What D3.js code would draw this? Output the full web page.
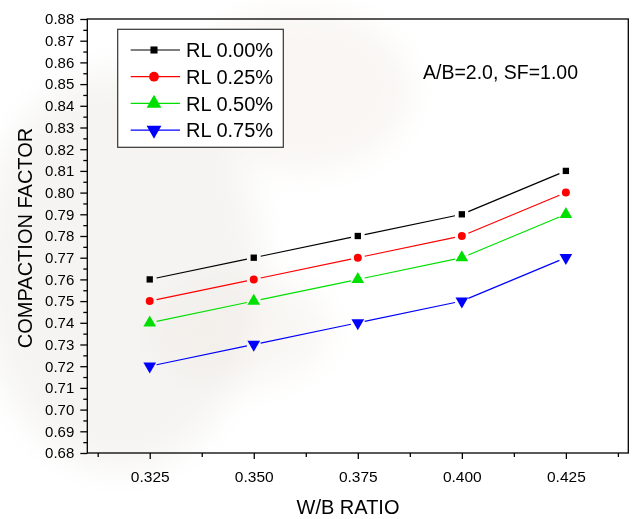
<!DOCTYPE html>
<html>
<head>
<meta charset="utf-8">
<script src="https://cdn.jsdelivr.net/npm/d3@7"></script>
<style>
	body { margin: 0; background: #fff; }
	svg { display: block; font-family: "Liberation Sans", Arial, sans-serif; }
</style>
</head>
<body>
<svg id="chart"></svg>
<script>
// ========== DATA ==========
var wbRatio = [0.325, 0.350, 0.375, 0.400, 0.425];
var seriesNames = ['RL 0.00%', 'RL 0.25%', 'RL 0.50%', 'RL 0.75%'];
var rl000 = [0.76, 0.77, 0.78, 0.79, 0.81];
var rl025 = [0.75, 0.76, 0.77, 0.78, 0.80];
var rl050 = [0.74, 0.75, 0.76, 0.77, 0.79];
var rl075 = [0.72, 0.73, 0.74, 0.75, 0.77];
var xTicks = [0.325, 0.350, 0.375, 0.400, 0.425];
var xMinorTicks = [0.3125, 0.3375, 0.3625, 0.3875, 0.4125, 0.4375];
var yTicks = d3.range(0, 21).map(function(i) { return +(0.68 + i * 0.01).toFixed(2); });
var yMinorTicks = d3.range(0, 20).map(function(i) { return +(0.685 + i * 0.01).toFixed(3); });

makeChart();

function makeChart() {
	var width = 632;
	var height = 519;
	var left = 87.3, right = 628.3, top = 19, bottom = 453;

	var colors = ['#000000', '#ff0000', '#00e000', '#0000ff'];
	var symbols = [d3.symbolSquare, d3.symbolCircle, d3.symbolTriangle, d3.symbolTriangle];
	var allSeries = [rl000, rl025, rl050, rl075];

	var svg = d3.select('#chart')
		.attr('width', width)
		.attr('height', height);

	var x = d3.scaleLinear().domain([0.31, 0.44]).range([left, right]);
	var y = d3.scaleLinear().domain([0.68, 0.88]).range([bottom, top]);

	// faint watermark-like background
	var defs = svg.append('defs');
	defs.append('filter').attr('id', 'blur')
		.attr('x', '-50%').attr('y', '-50%').attr('width', '200%').attr('height', '200%')
		.append('feGaussianBlur').attr('stdDeviation', 16);
	var bg = svg.append('g').attr('filter', 'url(#blur)');
	bg.append('ellipse').attr('cx', 120).attr('cy', 270).attr('rx', 140).attr('ry', 200)
		.attr('fill', '#e8e6e2').attr('opacity', 0.45);
	bg.append('ellipse').attr('cx', 300).attr('cy', 90).attr('rx', 110).attr('ry', 80)
		.attr('fill', '#efe8e0').attr('opacity', 0.4);
	bg.append('ellipse').attr('cx', 240).attr('cy', 330).attr('rx', 90).attr('ry', 55)
		.attr('fill', '#efece4').attr('opacity', 0.4);

	// frame
	svg.append('rect')
		.attr('x', left).attr('y', top)
		.attr('width', right - left).attr('height', bottom - top)
		.attr('fill', 'none')
		.attr('stroke', '#000')
		.attr('stroke-width', 1.3);

	// axes
	function styleAxis(g) {
		g.select('.domain').remove();
		g.selectAll('line').attr('stroke', '#000').attr('stroke-width', 1.3);
	}

	svg.append('g')
		.attr('transform', 'translate(0,' + bottom + ')')
		.call(d3.axisBottom(x).tickValues(xMinorTicks).tickSize(4).tickFormat(''))
		.call(styleAxis);
	svg.append('g')
		.attr('transform', 'translate(0,' + bottom + ')')
		.call(d3.axisBottom(x).tickValues(xTicks).tickSize(6).tickPadding(12).tickFormat(d3.format('.3f')))
		.call(styleAxis)
		.selectAll('text')
			.attr('fill', '#000')
			.style('font-size', '15.5px');

	svg.append('g')
		.attr('transform', 'translate(' + left + ',0)')
		.call(d3.axisLeft(y).tickValues(yMinorTicks).tickSize(4).tickFormat(''))
		.call(styleAxis);
	svg.append('g')
		.attr('transform', 'translate(' + left + ',0)')
		.call(d3.axisLeft(y).tickValues(yTicks).tickSize(7).tickPadding(6).tickFormat(d3.format('.2f')))
		.call(styleAxis)
		.selectAll('text')
			.attr('fill', '#000')
			.style('font-size', '15px');

	// axis titles
	svg.append('text')
		.attr('text-anchor', 'middle')
		.attr('transform', 'translate(32,238)rotate(-90)')
		.style('font-size', '20px')
		.text('COMPACTION FACTOR');
	svg.append('text')
		.attr('text-anchor', 'middle')
		.attr('x', 348)
		.attr('y', 514)
		.style('font-size', '20px')
		.text('W/B RATIO');

	// annotation
	svg.append('text')
		.attr('x', 423)
		.attr('y', 79)
		.style('font-size', '19.5px')
		.text('A/B=2.0, SF=1.00');

	// series lines, with a gap around each symbol
	var gap = 7;
	allSeries.forEach(function(vals, s) {
		var pts = wbRatio.map(function(w, i) { return [x(w), y(vals[i])]; });
		for (var i = 0; i < pts.length - 1; i++) {
			var p = pts[i], q = pts[i + 1];
			var dx = q[0] - p[0], dy = q[1] - p[1];
			var len = Math.sqrt(dx * dx + dy * dy);
			var ux = dx / len, uy = dy / len;
			svg.append('line')
				.attr('x1', p[0] + ux * gap).attr('y1', p[1] + uy * gap)
				.attr('x2', q[0] - ux * gap).attr('y2', q[1] - uy * gap)
				.attr('stroke', colors[s])
				.attr('stroke-width', 1.2);
		}
	});

	// symbols
	var symbolSizes = [40, 50, 70, 70];
	allSeries.forEach(function(vals, s) {
		svg.selectAll('.sym' + s)
			.data(vals).enter().append('path')
				.attr('class', 'sym' + s)
				.attr('d', d3.symbol().type(symbols[s]).size(symbolSizes[s]))
				.attr('transform', function(d, i) {
					var t = 'translate(' + x(wbRatio[i]) + ',' + y(d) + ')';
					return s === 3 ? t + 'rotate(180)' : t;
				})
				.attr('fill', colors[s]);
	});

	// legend
	var legend = svg.append('g');
	legend.append('rect')
		.attr('x', 117.7).attr('y', 29.3)
		.attr('width', 165.6).attr('height', 118)
		.attr('fill', '#fff')
		.attr('stroke', '#333')
		.attr('stroke-width', 1.2);

	var legendSizes = [50, 75, 95, 95];
	seriesNames.forEach(function(name, s) {
		var cy = 50 + s * 26.7;
		legend.append('line')
			.attr('x1', 130.7).attr('x2', 180)
			.attr('y1', cy).attr('y2', cy)
			.attr('stroke', colors[s])
			.attr('stroke-width', 1.2);
		legend.append('path')
			.attr('d', d3.symbol().type(symbols[s]).size(legendSizes[s]))
			.attr('transform', 'translate(154,' + cy + ')' + (s === 3 ? 'rotate(180)' : ''))
			.attr('fill', colors[s]);
		legend.append('text')
			.attr('x', 186)
			.attr('y', cy + 7.2)
			.style('font-size', '20px')
			.text(name);
	});
}
</script>
</body>
</html>
